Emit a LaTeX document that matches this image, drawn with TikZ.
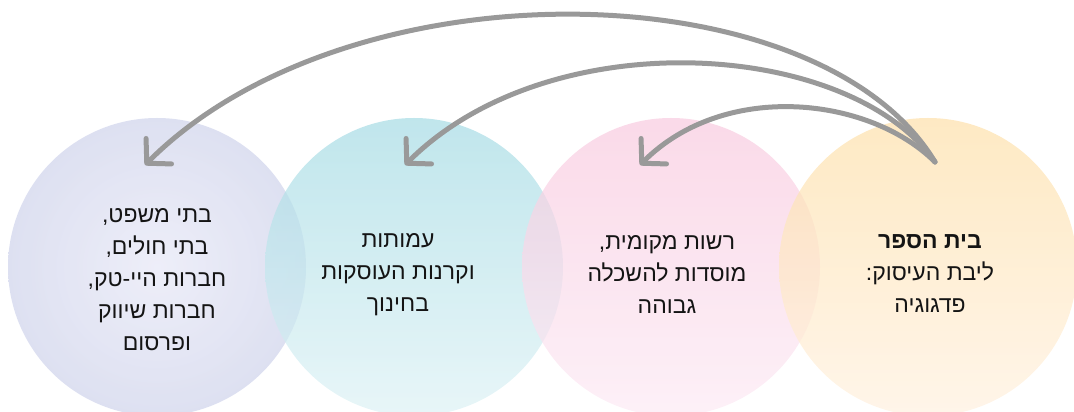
\documentclass[tikz,border=0pt]{standalone}
\usepackage{fontspec}
\usetikzlibrary{arrows.meta}
\newfontfamily\hebfont[Script=Hebrew]{Liberation Sans}
\TeXXeTstate=1
\definecolor{lavin}{RGB}{230,231,246}
\definecolor{lavout}{RGB}{184,191,224}
\definecolor{cyantop}{RGB}{165,219,228}
\definecolor{cyanbot}{RGB}{222,242,245}
\definecolor{pinktop}{RGB}{248,202,223}
\definecolor{pinkbot}{RGB}{252,234,244}
\definecolor{orgtop}{RGB}{254,224,170}
\definecolor{orgbot}{RGB}{255,241,224}
\definecolor{arrgray}{RGB}{153,153,153}
\definecolor{txtcol}{RGB}{20,20,20}
\pgfdeclareradialshading{lavball}{\pgfpoint{0bp}{0bp}}{color(0bp)=(lavin); color(50bp)=(lavout)}
\tikzset{
  ring/.style={opacity=0.7},
  txt/.style={font=\hebfont\fontsize{23}{32}\selectfont, align=center, text=txtcol},
  conn/.style={draw=arrgray, line width=5pt, line cap=round,
    -{Straight Barb[length=17pt,width=36pt,line cap=round,line join=round]}}
}
\begin{document}
\begin{tikzpicture}[x=1pt,y=1pt]
\useasboundingbox (0,0) rectangle (1074,412);
\shade[ring, shading=lavball] (157,145) circle (149);
\shade[ring, top color=cyantop, bottom color=cyanbot] (414,145) circle (149);
\shade[ring, top color=pinktop, bottom color=pinkbot] (671,145) circle (149);
\shade[ring, top color=orgtop, bottom color=orgbot] (928,145) circle (149);

\node[txt] (l1) at (157,132) {\beginR בתי משפט,\endR\\ \beginR בתי חולים,\endR\\ \beginR חברות היי-טק,\endR\\ \beginR חברות שיווק\endR\\ \beginR ופרסום\endR};
\node[txt] (l2) at (398,137) {\beginR עמותות\endR\\ \beginR וקרנות העוסקות\endR\\ \beginR בחינוך\endR};
\node[txt] (l3) at (667,137) {\beginR רשות מקומית,\endR\\ \beginR מוסדות להשכלה\endR\\ \beginR גבוהה\endR};
\node[txt] (l4) at (930,138) {\beginR{\bfseries בית הספר}\endR\\ \beginR ליבת העיסוק:\endR\\ \beginR פדגוגיה\endR};

\coordinate (s) at (935,250);
\coordinate (t1) at (145,247);
\coordinate (t2) at (405,247);
\coordinate (t3) at (640,247);
\draw[conn] (s) .. controls (820,442) and (350,452) .. (t1);
\draw[conn] (s) .. controls (850,372) and (550,392) .. (t2);
\draw[conn] (s) .. controls (870,315) and (725,332) .. (t3);
\end{tikzpicture}
\end{document}
